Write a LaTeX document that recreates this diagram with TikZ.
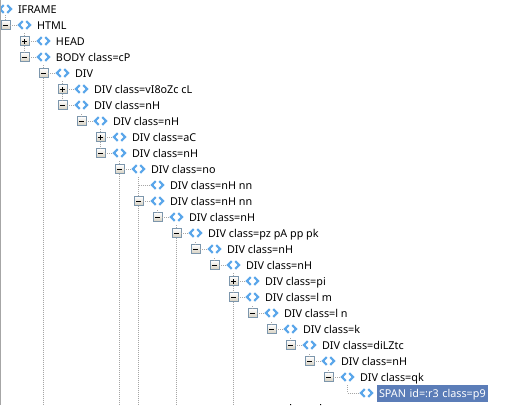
\documentclass[tikz,border=0pt]{standalone}
\usepackage{fontspec}
\setmainfont{Noto Sans}
\usetikzlibrary{positioning}
\definecolor{rowsel}{HTML}{5B7DB8}
\definecolor{tagblue}{HTML}{5AA6EA}
\definecolor{boxedge}{HTML}{7C96AC}
\definecolor{boxfoot}{HTML}{D6D0C0}
\tikzset{
    treeline/.style={draw=gray!70,line width=1pt,dash pattern=on 1pt off 1pt},
    minus/.style={rectangle,draw=boxedge,line width=1pt,top color=white,bottom color=boxfoot,
        minimum size=9pt,inner sep=0pt,outer sep=0pt,
        path picture={\draw[black,line width=1pt] ([xshift=-2.5pt]path picture bounding box.center) -- ([xshift=2.5pt]path picture bounding box.center);}},
    plus/.style={minus,
        path picture={\draw[black,line width=1pt] ([xshift=-2.5pt]path picture bounding box.center) -- ([xshift=2.5pt]path picture bounding box.center)
            ([yshift=-2.5pt]path picture bounding box.center) -- ([yshift=2.5pt]path picture bounding box.center);}},
    leaf/.style={rectangle,minimum size=9pt,inner sep=0pt,outer sep=0pt},
    tagicon/.style={rectangle,minimum width=16pt,minimum height=12pt,inner sep=0pt,outer sep=0pt,
        path picture={\draw[tagblue,line width=2.2pt,shift={(path picture bounding box.center)}]
            (-1.8,-3.9) -- (-5.5,0) -- (-1.8,3.9) (1.8,-3.9) -- (5.5,0) -- (1.8,3.9);}},
    rowtext/.style={inner sep=0pt,outer sep=0pt,text height=10pt,text depth=1pt,
        font=\fontsize{10.8}{13}\selectfont},
}
% one row of the tree: style, name, x, y, text
\newcommand{\treerow}[5]{
    \node (#2) [#1] at (#3,#4) {};
    \coordinate (#2-s) at (#3,{#4-8});
    \node (#2-i) [tagicon,right=6.5pt of #2] {};
    \node (#2-t) [rowtext,right=4.5pt of #2-i] {#5};
    \draw[treeline] (#2) -- (#2-i);
}

\begin{document}
\begin{tikzpicture}[x=1pt,y=-1pt]
    \clip (0,0) rectangle (512,405);
    \fill[white] (0,0) rectangle (512,405);

    \node (iframe-i) [tagicon] at (5.5,9) {};
    \node (iframe-t) [rowtext,right=4.5pt of iframe-i] {IFRAME};

    \treerow{minus}{html}{5.5}{25}{HTML}
    \treerow{plus}{head}{24.5}{41}{HEAD}
    \treerow{minus}{body}{24.5}{57}{BODY class=cP}
    \treerow{minus}{div}{43.5}{73}{DIV}
    \treerow{plus}{divvi}{62.5}{89}{DIV class=vI8oZc cL}
    \treerow{minus}{divnha}{62.5}{105}{DIV class=nH}
    \treerow{minus}{divnhb}{81.5}{121}{DIV class=nH}
    \treerow{plus}{divac}{100.5}{137}{DIV class=aC}
    \treerow{minus}{divnhc}{100.5}{153}{DIV class=nH}
    \treerow{minus}{divno}{119.5}{169}{DIV class=no}
    \treerow{leaf}{divnna}{138.5}{185}{DIV class=nH nn}
    \treerow{minus}{divnnb}{138.5}{201}{DIV class=nH nn}
    \treerow{minus}{divnhd}{157.5}{217}{DIV class=nH}
    \treerow{minus}{divpz}{176.5}{233}{DIV class=pz pA pp pk}
    \treerow{minus}{divnhe}{195.5}{249}{DIV class=nH}
    \treerow{minus}{divnhf}{214.5}{265}{DIV class=nH}
    \treerow{plus}{divpi}{233.5}{281}{DIV class=pi}
    \treerow{minus}{divlm}{233.5}{297}{DIV class=l m}
    \treerow{minus}{divln}{252.5}{313}{DIV class=l n}
    \treerow{minus}{divk}{271.5}{329}{DIV class=k}
    \treerow{minus}{divzt}{290.5}{345}{DIV class=diLZtc}
    \treerow{minus}{divnhg}{309.5}{361}{DIV class=nH}
    \treerow{minus}{divqk}{328.5}{377}{DIV class=qk}

    % selected row
    \node (span) [leaf] at (347.5,393) {};
    \coordinate (span-s) at (347.5,385);
    \node (span-i) [tagicon,right=6.5pt of span] {};
    \node (span-t) [rowtext,fill=rowsel,text=white,text width=107pt,inner xsep=2pt,inner ysep=3pt,right=2.5pt of span-i] {SPAN id=:r3 class=p9};

    % lines that run out at the bottom
    \coordinate (endb) at (43.5,404);
    \coordinate (endc) at (119.5,404);
    \coordinate (endd) at (138.5,404);
    \coordinate (ende) at (176.5,404);
    \coordinate (endf) at (233.5,404);

    \draw[treeline] (iframe-i) -- (html);
    \draw[treeline] (head-s) -- (head) -- (body);
    \draw[treeline] (div-s) -- (div) -- (endb);
    \draw[treeline] (divvi-s) -- (divvi) -- (divnha);
    \draw[treeline] (divnhb) -- (divnhb-s);
    \draw[treeline] (divac-s) -- (divac) -- (divnhc);
    \draw[treeline] (divno-s) -- (divno) -- (endc);
    \draw[treeline] (divnna-s) -- (divnnb) -- (endd);
    \draw[treeline] (divnna.center) -- (divnna-i);
    \draw[treeline] (divnhd) -- (divnhd-s);
    \draw[treeline] (divpz-s) -- (divpz) -- (ende);
    \draw[treeline] (divnhe) -- (divnhe-s);
    \draw[treeline] (divnhf) -- (divnhf-s);
    \draw[treeline] (divpi-s) -- (divpi) -- (divlm) -- (endf);
    \draw[treeline] (divln) -- (divln-s);
    \draw[treeline] (divk) -- (divk-s);
    \draw[treeline] (divzt) -- (divzt-s);
    \draw[treeline] (divnhg) -- (divnhg-s);
    \draw[treeline] (divqk) -- (divqk-s);
    \draw[treeline] (span-s) |- (span-i);

    % tops of the next row, cut off by the lower edge
    \fill[black] (290,404) rectangle (291,405) (320,404) rectangle (321,405);
    \fill[gray!70] (0,0) rectangle (1,405);
\end{tikzpicture}
\end{document}
